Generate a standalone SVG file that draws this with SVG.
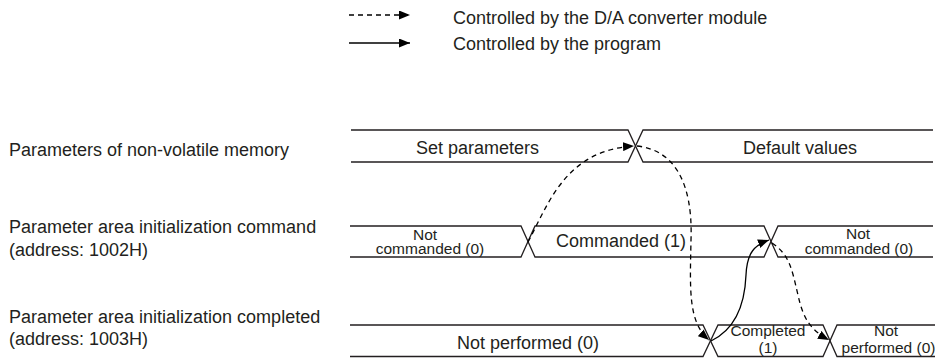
<svg xmlns="http://www.w3.org/2000/svg" width="935" height="358" viewBox="0 0 935 358">
  <style>
    text { font-family: "Liberation Sans", Arial, sans-serif; fill: #231f20; }
    .lbl { font-size: 18px; }
    .val { font-size: 18px; text-anchor: middle; }
    .sm { font-size: 15.5px; text-anchor: middle; }
    .sig { fill: none; stroke: #231f20; stroke-width: 1.3; }
    .dash { fill: none; stroke: #000; stroke-width: 1.3; stroke-dasharray: 5 4; marker-end: url(#ah); }
    .solid { fill: none; stroke: #000; stroke-width: 1.3; marker-end: url(#ah); }
  </style>
  <defs>
    <marker id="ah" viewBox="0 0 11 9" refX="11" refY="4.5" markerWidth="11" markerHeight="9" markerUnits="userSpaceOnUse" orient="auto">
      <path d="M0,0 L11,4.5 L0,9 Z" fill="#000"/>
    </marker>
  </defs>

  <g id="legend">
    <line class="dash" x1="349" y1="15" x2="410" y2="15"/>
    <text class="lbl" x="453" y="23.5">Controlled by the D/A converter module</text>
    <line class="solid" x1="349" y1="43" x2="410" y2="43"/>
    <text class="lbl" x="453" y="50">Controlled by the program</text>
  </g>

  <g id="row-nonvolatile">
    <text class="lbl" x="9" y="156">Parameters of non-volatile memory</text>
    <path class="sig" d="M351,130 H628 L643,162 H933"/>
    <path class="sig" d="M351,162 H628 L643,130 H933"/>
    <text class="val" x="477.5" y="154">Set parameters</text>
    <text class="val" x="800" y="154">Default values</text>
  </g>

  <g id="row-command">
    <text class="lbl" x="9" y="233">Parameter area initialization command</text>
    <text class="lbl" x="9" y="256">(address: 1002H)</text>
    <path class="sig" d="M350,226 H521 L535,257 H764 L778,226 H933"/>
    <path class="sig" d="M350,257 H521 L535,226 H764 L778,257 H933"/>
    <text class="sm" x="425" y="240">Not</text>
    <text class="sm" x="430" y="254">commanded (0)</text>
    <text class="val" x="621" y="247">Commanded (1)</text>
    <text class="sm" x="858" y="239">Not</text>
    <text class="sm" x="859" y="254">commanded (0)</text>
  </g>

  <g id="row-completed">
    <text class="lbl" x="9" y="323">Parameter area initialization completed</text>
    <text class="lbl" x="9" y="345">(address: 1003H)</text>
    <path class="sig" d="M350,325 H703 L718,356.5 H823 L837,325 H935"/>
    <path class="sig" d="M350,356.5 H703 L718,325 H823 L837,356.5 H935"/>
    <text class="val" x="528" y="349">Not performed (0)</text>
    <text class="sm" x="768" y="336">Completed</text>
    <text class="sm" x="768" y="353">(1)</text>
    <text class="sm" x="886" y="336">Not</text>
    <text class="sm" x="888.5" y="353">performed (0)</text>
  </g>

  <g id="connectors">
    <path class="dash" d="M528,242 C548,205 565,150 634,146"/>
    <path class="dash" d="M637,146 C674,150 693,182 691,240 C690,290 688,322 709,340"/>
    <path class="solid" d="M711,341 C738,328 745,300 746,275 C747,252 755,245 769,240"/>
    <path class="dash" d="M772,243 C790,255 792,270 798,295 C803,318 810,330 829,340"/>
  </g>
</svg>
